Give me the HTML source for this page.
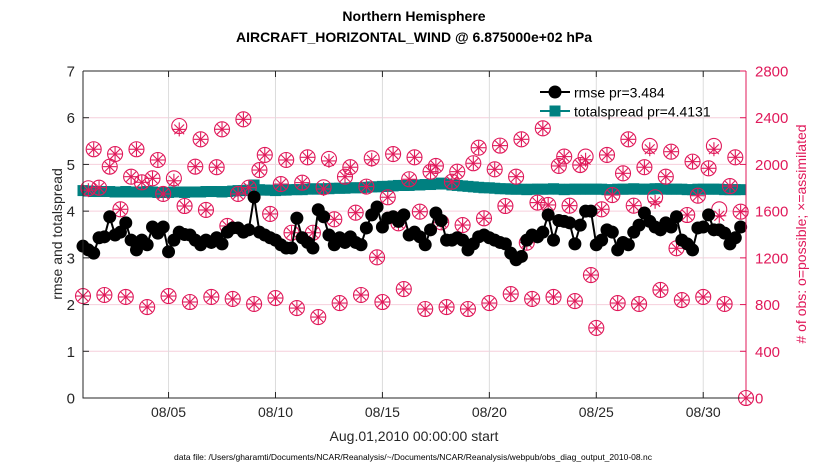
<!DOCTYPE html>
<html><head><meta charset="utf-8">
<style>
html,body{margin:0;padding:0;background:#fff;}
svg{display:block;font-family:"Liberation Sans",Arial,sans-serif;}
</style></head>
<body>
<svg id="chart" width="830" height="470" viewBox="0 0 830 470" xmlns="http://www.w3.org/2000/svg">
<rect x="0" y="0" width="830" height="470" fill="#fff"/>
<text x="414" y="21" text-anchor="middle" font-size="14" font-weight="bold" fill="#000">Northern Hemisphere</text>
<text x="414" y="42" text-anchor="middle" font-size="14" font-weight="bold" fill="#000">AIRCRAFT_HORIZONTAL_WIND @ 6.875000e+02 hPa</text>
<g id="grid"></g>
<g id="marks"></g>
<g id="axes"></g>
<text x="414" y="441" text-anchor="middle" font-size="14" fill="#262626">Aug.01,2010 00:00:00 start</text>
<text x="413" y="460" text-anchor="middle" font-size="8.5" fill="#000">data file: /Users/gharamti/Documents/NCAR/Reanalysis/~/Documents/NCAR/Reanalysis/webpub/obs_diag_output_2010-08.nc</text>
<text transform="translate(62,234) rotate(-90)" text-anchor="middle" font-size="14" fill="#262626">rmse and totalspread</text>
<text transform="translate(806,234) rotate(-90)" text-anchor="middle" font-size="14" fill="#e0195a"># of obs: o=possible; ×=assimilated</text>
<g id="legend">
  <g>
    <line x1="540" y1="92" x2="570" y2="92" stroke="#000" stroke-width="2"/>
    <circle cx="555" cy="92" r="6.5" fill="#000"/>
    <text x="574" y="97.5" font-size="14" fill="#000">rmse pr=3.484</text>
  </g>
  <g>
    <line x1="540" y1="111" x2="570" y2="111" stroke="#008080" stroke-width="2"/>
    <rect x="549.5" y="105.5" width="11" height="11" fill="#008080"/>
    <text x="574" y="116.5" font-size="14" fill="#000">totalspread pr=4.4131</text>
  </g>
</g>
</svg>
<script>
// ---- data (time in days since Aug 01 00Z) ----
const xTickLabels = ["08/05","08/10","08/15","08/20","08/25","08/30"];
const xTickDays = [4,9,14,19,24,29];
const leftTicks = [0,1,2,3,4,5,6,7];
const rightTicks = [0,400,800,1200,1600,2000,2400,2800];
const rmse = [3.25,3.17,3.1,3.43,3.45,3.88,3.49,3.55,3.75,3.38,3.17,3.38,3.28,3.66,3.53,3.66,3.13,3.38,3.55,3.5,3.49,3.38,3.28,3.38,3.33,3.43,3.3,3.55,3.64,3.64,3.55,
3.6,4.3,3.55,3.49,3.43,3.38,3.28,3.21,3.21,3.85,3.43,3.33,3.21,4.03,3.88,3.49,3.28,3.43,3.33,3.45,3.33,3.28,3.64,3.92,4.09,3.66,3.85,3.88,3.78,3.92,3.49,3.55,
3.45,3.28,3.6,3.96,3.8,3.38,3.38,3.43,3.38,3.17,3.3,3.45,3.49,3.43,3.38,3.33,3.3,3.1,2.96,3.03,3.38,3.49,3.45,3.55,3.92,3.38,3.8,3.78,3.75,3.3,
3.7,4.0,4.0,3.28,3.38,3.6,3.55,3.17,3.33,3.28,3.55,3.7,3.96,3.78,3.66,3.6,3.75,3.66,3.88,3.38,3.3,3.17,3.64,3.66,3.92,3.6,3.6,3.53,3.3,3.43,3.66];
const spread = [4.44,4.43,4.42,4.42,4.42,4.42,4.41,4.41,4.42,4.41,4.41,4.41,4.42,4.41,4.40,4.40,4.40,4.41,4.41,4.40,4.41,4.41,4.41,4.42,4.42,4.42,4.41,4.42,4.43,4.44,4.44,
4.45,4.56,4.46,4.45,4.45,4.44,4.45,4.45,4.46,4.46,4.46,4.47,4.48,4.47,4.48,4.48,4.49,4.49,4.49,4.50,4.50,4.50,4.51,4.52,4.52,4.53,4.53,4.54,4.55,4.55,4.55,4.56,
4.56,4.57,4.57,4.58,4.60,4.58,4.56,4.55,4.54,4.53,4.52,4.51,4.50,4.50,4.49,4.48,4.48,4.47,4.47,4.47,4.46,4.47,4.47,4.47,4.47,4.48,4.47,4.46,4.47,4.47,
4.47,4.47,4.47,4.47,4.47,4.46,4.46,4.47,4.47,4.47,4.48,4.47,4.47,4.47,4.48,4.48,4.47,4.47,4.47,4.47,4.46,4.46,4.47,4.47,4.47,4.47,4.47,4.46,4.46,4.46,4.46];
const obsLow00Z = [873,882,865,779,873,822,865,848,805,856,770,693,813,882,822,933,762,779,762,813,890,848,865,830,600,813,805,925,839,865,805,0];
const obs06Z = [1796,1981,1895,1881,1881,1981,1976,1747,1952,1832,1844,1804,1895,1810,1719,1873,1938,1852,2010,1958,1895,1673,1987,1995,1616,1924,1976,1895,1567,1967,1815];
const obs12Z = [2130,2089,2130,2038,2329,2215,2301,2386,2081,2038,2061,2047,1976,2052,2089,2061,1987,1938,2143,2161,2215,2309,2067,2067,2081,2215,2158,2109,2024,2158,2061];
const obs18Z = [1801,1616,1847,1747,1644,1610,1473,1801,1576,1415,1415,1530,1587,1205,1496,1595,1504,1481,1539,1644,1330,1653,1647,1053,1738,1647,1719,1282,1732,1616,1595];
const assim06Z = [1780,1981,1895,1881,1860,1981,1976,1747,1952,1832,1844,1790,1895,1810,1719,1873,1938,1852,2010,1958,1895,1673,1987,1995,1616,1924,1976,1895,1567,1967,1815];
const assim12Z = [2130,2089,2130,2038,2300,2215,2301,2386,2081,2038,2061,2030,1976,2040,2089,2061,1987,1938,2143,2161,2215,2309,2067,2040,2081,2215,2130,2109,2024,2130,2061];
const assim18Z = [1801,1616,1847,1747,1644,1610,1473,1801,1576,1415,1415,1530,1587,1205,1496,1595,1504,1481,1539,1644,1330,1653,1647,1053,1738,1647,1680,1282,1732,1560,1595];

// ---- scales ----
const X0=83, X1=746, Y0=398, Y1=71;
function xs(d){ return X0 + (d/31)*(X1-X0); }
function yl(v){ return Y0 - (v/7)*(Y0-Y1); }
function yr(v){ return Y0 - (v/2800)*(Y0-Y1); }
const NS="http://www.w3.org/2000/svg";
function mk(tag, attrs, parent){ const e=document.createElementNS(NS,tag); for(const k in attrs) e.setAttribute(k,attrs[k]); parent.appendChild(e); return e; }
const grid=document.getElementById('grid'), marks=document.getElementById('marks'), axes=document.getElementById('axes');

// grid
rightTicks.forEach((t,i)=>{ if(i===0||i===rightTicks.length-1) return;
  const l=mk('line',{x1:X0,x2:X1,y1:yr(t),y2:yr(t),stroke:'#f6cfdc','stroke-width':1},grid);
  
  
});
xTickDays.forEach(d=>{
  const l=mk('line',{x1:xs(d),x2:xs(d),y1:Y1,y2:Y0,stroke:'#dcdcdc','stroke-width':1},grid);
  
  
});

// obs markers
function obsMarker(d,v,kind){
  const cx=xs(d), cy=yr(v);
  if(kind==='possible'){
    const c=mk('circle',{cx:cx,cy:cy,r:7.5,fill:'none',stroke:'#e0195a','stroke-width':1.1},marks);
    
    
  } else {
    const g=mk('g',{stroke:'#e0195a','stroke-width':1.1},marks);
    
    
    const r=7;
    mk('line',{x1:cx-r,x2:cx+r,y1:cy,y2:cy},g);
    mk('line',{x1:cx,x2:cx,y1:cy-r,y2:cy+r},g);
    mk('line',{x1:cx-r*0.7,x2:cx+r*0.7,y1:cy-r*0.7,y2:cy+r*0.7},g);
    mk('line',{x1:cx-r*0.7,x2:cx+r*0.7,y1:cy+r*0.7,y2:cy-r*0.7},g);
  }
}
function drawObs(){
  obsLow00Z.forEach((v,i)=>{ obsMarker(i,v,'possible'); obsMarker(i,v,'assim'); });
  [[obs06Z,assim06Z,0.25],[obs12Z,assim12Z,0.5],[obs18Z,assim18Z,0.75]].forEach(([p,a,off])=>{
    p.forEach((v,i)=>obsMarker(i+off,v,'possible'));
    a.forEach((v,i)=>obsMarker(i+off,v,'assim'));
  });
}

// spread
const sp=mk('polyline',{points:spread.map((v,i)=>xs(i*0.25)+','+yl(v)).join(' '),fill:'none',stroke:'#008080','stroke-width':2},marks);


spread.forEach((v,i)=>{
  const r=mk('rect',{x:xs(i*0.25)-5.5,y:yl(v)-5.5,width:11,height:11,fill:'#008080'},marks);
  
  
});
drawObs();
// rmse
const rl=mk('polyline',{points:rmse.map((v,i)=>xs(i*0.25)+','+yl(v)).join(' '),fill:'none',stroke:'#000','stroke-width':2},marks);


rmse.forEach((v,i)=>{
  const c=mk('circle',{cx:xs(i*0.25),cy:yl(v),r:6.5,fill:'#000'},marks);
  
  
});

// axes
const ax=mk('path',{d:`M${X0},${Y1} V${Y0} H${X1}`,fill:'none',stroke:'#262626','stroke-width':1},axes);


const ra=mk('line',{x1:X1,x2:X1,y1:Y1,y2:Y0,stroke:'#e0195a','stroke-width':1},axes);


const ta=mk('line',{x1:X0,x2:X1,y1:Y1,y2:Y1,stroke:'#262626','stroke-width':1},axes);


leftTicks.forEach(t=>{
  mk('line',{x1:X0,x2:X0+6,y1:yl(t),y2:yl(t),stroke:'#262626'},axes);
  const tx=mk('text',{x:X0-8,y:yl(t)+5.5,'text-anchor':'end','font-size':15,fill:'#262626'},axes);
  tx.textContent=t;
  
  
});
rightTicks.forEach(t=>{
  mk('line',{x1:X1,x2:X1-6,y1:yr(t),y2:yr(t),stroke:'#e0195a'},axes);
  const tx=mk('text',{x:X1+9,y:yr(t)+5.5,'text-anchor':'start','font-size':15,fill:'#e0195a'},axes);
  tx.textContent=t;
  
  
});
xTickDays.forEach((d,i)=>{
  mk('line',{x1:xs(d),x2:xs(d),y1:Y0,y2:Y0-6,stroke:'#262626'},axes);
  mk('line',{x1:xs(d),x2:xs(d),y1:Y1,y2:Y1+6,stroke:'#262626'},axes);
  const tx=mk('text',{x:xs(d),y:417,'text-anchor':'middle','font-size':14,fill:'#262626'},axes);
  tx.textContent=xTickLabels[i];
  
  
});
</script>
</body></html>
